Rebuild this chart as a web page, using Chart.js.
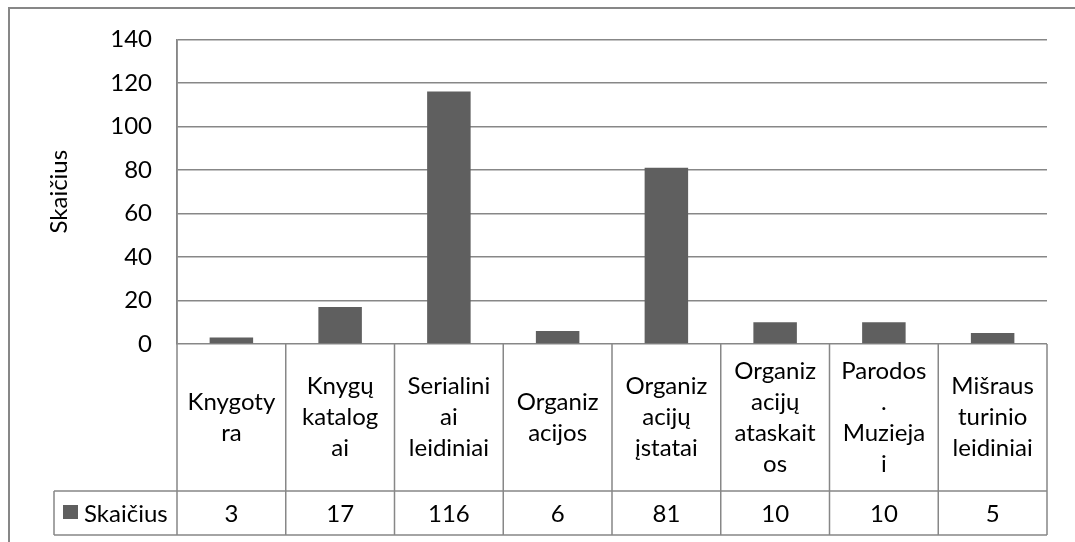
<!DOCTYPE html>
<html>
<head>
<meta charset="utf-8">
<script src="https://cdn.jsdelivr.net/npm/chart.js@4/dist/chart.umd.min.js"></script>
<style>
  html, body { margin: 0; padding: 0; background: #ffffff; }
  #wrap { width: 1075px; height: 542px; position: relative; }
</style>
</head>
<body>
<div id="wrap"><canvas id="c" width="1075" height="542"></canvas></div>
<script>
// ---- data ----
const categories = [
  ['Knygoty', 'ra'],
  ['Knygų', 'katalog', 'ai'],
  ['Serialini', 'ai', 'leidiniai'],
  ['Organiz', 'acijos'],
  ['Organiz', 'acijų', 'įstatai'],
  ['Organiz', 'acijų', 'ataskait', 'os'],
  ['Parodos', '.', 'Muzieja', 'i'],
  ['Mišraus', 'turinio', 'leidiniai']
];
const seriesName = 'Skaičius';
const values = [3, 17, 116, 6, 81, 10, 10, 5];
const axisTitle = 'Skaičius';
const yMin = 0, yMax = 140, yStep = 20;

// ---- styles ----
const FONT = 'Lato';
const FONT_SIZE = 24;
const LINE_H = 31;
const BAR_COLOR = '#5f5f5f';
const LINE_COLOR = '#878787';
const CAT_ROW_H = 147;
const VAL_ROW_H = 44;
const LEGEND_LEFT = 54;

const framePlugin = {
  id: 'frame',
  beforeDraw(chart) {
    const ctx = chart.ctx;
    ctx.save();
    ctx.fillStyle = '#ffffff';
    ctx.fillRect(0, 0, chart.width, chart.height);
    ctx.strokeStyle = LINE_COLOR;
    ctx.lineWidth = 2;
    ctx.beginPath();
    ctx.moveTo(9, chart.height + 5);
    ctx.lineTo(9, 8);
    ctx.lineTo(chart.width + 5, 8);
    ctx.stroke();
    ctx.restore();
  }
};

const tablePlugin = {
  id: 'dataTable',
  afterDraw(chart) {
    const ctx = chart.ctx;
    const xs = chart.scales.x;
    const area = chart.chartArea;
    const top = area.bottom;
    const mid = top + CAT_ROW_H;
    const bot = mid + VAL_ROW_H;
    const n = categories.length;
    const step = (xs.getPixelForValue(1) - xs.getPixelForValue(0));
    const bounds = [];
    for (let i = 0; i < n; i++) bounds.push(xs.getPixelForValue(i) - step / 2);
    bounds.push(xs.getPixelForValue(n - 1) + step / 2);

    ctx.save();
    ctx.strokeStyle = LINE_COLOR;
    ctx.lineWidth = 1.5;
    ctx.beginPath();
    // vertical lines
    bounds.forEach((bx, i) => {
      ctx.moveTo(bx, i === 0 ? area.top : top);
      ctx.lineTo(bx, bot);
    });
    // horizontal lines
    ctx.moveTo(LEGEND_LEFT, mid); ctx.lineTo(bounds[n], mid);
    ctx.moveTo(LEGEND_LEFT, bot); ctx.lineTo(bounds[n], bot);
    ctx.moveTo(LEGEND_LEFT, mid); ctx.lineTo(LEGEND_LEFT, bot);
    ctx.stroke();

    ctx.fillStyle = '#000000';
    ctx.font = FONT_SIZE + 'px ' + FONT;
    ctx.textAlign = 'center';
    ctx.textBaseline = 'middle';
    const catMid = (top + mid) / 2;
    categories.forEach((lines, i) => {
      const cx = xs.getPixelForValue(i);
      const start = catMid - (lines.length * LINE_H) / 2 + LINE_H / 2;
      lines.forEach((t, k) => ctx.fillText(t, cx, start + k * LINE_H));
    });
    const valMid = (mid + bot) / 2;
    values.forEach((v, i) => {
      ctx.fillText(String(v), xs.getPixelForValue(i), valMid + 1);
    });

    // legend key cell
    ctx.fillStyle = BAR_COLOR;
    ctx.fillRect(LEGEND_LEFT + 9, valMid - 8, 15, 14);
    ctx.fillStyle = '#000000';
    ctx.textAlign = 'left';
    ctx.fillText(seriesName, LEGEND_LEFT + 30, valMid + 1);
    ctx.restore();
  }
};

new Chart(document.getElementById('c'), {
  type: 'bar',
  data: {
    labels: categories.map(l => l.join(' ')),
    datasets: [{
      label: seriesName,
      data: values,
      backgroundColor: BAR_COLOR,
      borderWidth: 0,
      barPercentage: 0.4,
      categoryPercentage: 1.0
    }]
  },
  options: {
    responsive: false,
    animation: false,
    events: [],
    layout: { padding: { left: 10, top: 38, right: 28, bottom: 198 } },
    plugins: {
      legend: { display: false },
      tooltip: { enabled: false },
      title: { display: false }
    },
    scales: {
      x: {
        ticks: { display: false },
        grid: { display: false, drawTicks: false },
        border: { display: false }
      },
      y: {
        min: yMin,
        max: yMax,
        ticks: {
          stepSize: yStep,
          color: '#000000',
          padding: 25,
          font: { family: FONT, size: FONT_SIZE }
        },
        grid: { color: LINE_COLOR, lineWidth: 1.5, drawTicks: false },
        border: { display: true, color: LINE_COLOR, width: 1.5 },
        title: {
          display: true,
          text: axisTitle,
          color: '#000000',
          font: { family: FONT, size: FONT_SIZE },
          padding: { top: 35, bottom: 0 }
        },
        afterFit(scale) { scale.width = 167; }
      }
    }
  },
  plugins: [framePlugin, tablePlugin]
});
</script>
</body>
</html>
